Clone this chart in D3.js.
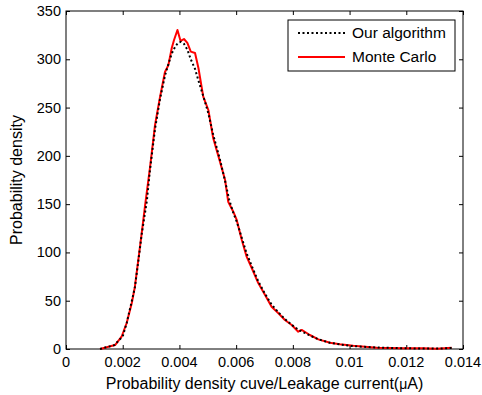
<!DOCTYPE html>
<html>
<head>
<meta charset="utf-8">
<script src="https://cdn.jsdelivr.net/npm/d3@7"></script>
<style>
  body { margin: 0; background: #fff; }
  svg { display: block; font-family: "Liberation Sans", Arial, sans-serif; }
</style>
</head>
<body>
<div id="chart"></div>
<script>
// leakage current (uA) and density
const mcX = [0.0012, 0.00173, 0.00196, 0.00214, 0.00232, 0.00243, 0.00255, 0.00267, 0.00279, 0.00296,
  0.00314, 0.00331, 0.00349, 0.00361, 0.00373, 0.00381, 0.00393, 0.00404, 0.00416, 0.00428,
  0.0044, 0.00455, 0.00467, 0.00484, 0.00502, 0.00519, 0.00543, 0.00561, 0.00572, 0.0059,
  0.00602, 0.0062, 0.00637, 0.00655, 0.00678, 0.00702, 0.00725, 0.00749, 0.00772, 0.00796,
  0.00819, 0.00831, 0.0086, 0.0089, 0.00931, 0.00966, 0.01013, 0.01096, 0.01189, 0.0126,
  0.01307, 0.0136];
const mcY = [0, 4.1, 12.7, 26.9, 47.6, 64.5, 92.2, 120.1, 149, 187.4,
  232, 260, 286.8, 294, 311.7, 320, 330.3, 319, 321, 316.9,
  307.9, 306.5, 291, 261.3, 247.5, 218.5, 194, 175, 152.5, 142.2,
  133.6, 112.9, 95.6, 83.9, 68.3, 55.9, 43.8, 37, 30, 24.9,
  17.9, 19.7, 14.5, 10, 6.5, 4.9, 3.4, 1.3, 0.7, 0.7,
  0.3, 1.3];

const algX = [0.0012, 0.0017, 0.002, 0.00214, 0.0023, 0.00243, 0.00255, 0.00267, 0.00285, 0.00296,
  0.00314, 0.00331, 0.00349, 0.00361, 0.00373, 0.00385, 0.00395, 0.00405, 0.00416, 0.00428,
  0.0044, 0.00455, 0.00467, 0.00484, 0.00502, 0.00519, 0.00543, 0.00561, 0.00575, 0.0059,
  0.00602, 0.0062, 0.00637, 0.00655, 0.00678, 0.00702, 0.00725, 0.00749, 0.00772, 0.00796,
  0.00819, 0.0086, 0.0089, 0.0093, 0.0097, 0.0101, 0.011, 0.0119, 0.0126, 0.0131, 0.0136];
const algY = [0, 4, 13, 27, 47, 64, 91, 119, 153, 185,
  228, 258, 283, 295, 306, 313, 317, 318, 316, 310,
  300, 290, 278, 262, 244, 222, 196, 174, 155, 141,
  132, 115, 99, 86, 70, 57, 46, 38, 31, 25,
  20, 14, 10, 6.5, 4.5, 3, 1.5, 0.8, 0.5, 0.4, 1];

const xTicks = [0, 0.002, 0.004, 0.006, 0.008, 0.01, 0.012, 0.014];
const xTickLabels = ["0", "0.002", "0.004", "0.006", "0.008", "0.01", "0.012", "0.014"];
const yTicks = [0, 50, 100, 150, 200, 250, 300, 350];
const yTickLabels = ["0", "50", "100", "150", "200", "250", "300", "350"];
const seriesNames = ["Our algorithm", "Monte Carlo"];

const width = 482, height = 395;
const margin = { top: 11, right: 19, bottom: 46, left: 66 };
const innerWidth = width - margin.left - margin.right;
const innerHeight = height - margin.top - margin.bottom;

const svg = d3.select("#chart").append("svg")
  .attr("width", width)
  .attr("height", height);

const g = svg.append("g")
  .attr("transform", `translate(${margin.left}, ${margin.top})`);

const x = d3.scaleLinear().domain([0, 0.014]).range([0, innerWidth]);
const y = d3.scaleLinear().domain([0, 350]).range([innerHeight, 0]);

const fontSize = 14.5;

// tick marks only, pointing inward on all four sides
function ticksOnly(sel) {
  sel.selectAll(".domain").remove();
  sel.selectAll("text").remove();
  sel.selectAll("line").attr("stroke", "#000");
}

g.append("g")
  .attr("transform", `translate(0, ${innerHeight})`)
  .call(d3.axisBottom(x).tickValues(xTicks).tickSizeInner(-4).tickSizeOuter(0))
  .call(ticksOnly);
g.append("g")
  .call(d3.axisTop(x).tickValues(xTicks).tickSizeInner(-4).tickSizeOuter(0))
  .call(ticksOnly);
g.append("g")
  .call(d3.axisLeft(y).tickValues(yTicks).tickSizeInner(-4).tickSizeOuter(0))
  .call(ticksOnly);
g.append("g")
  .attr("transform", `translate(${innerWidth}, 0)`)
  .call(d3.axisRight(y).tickValues(yTicks).tickSizeInner(-4).tickSizeOuter(0))
  .call(ticksOnly);

// tick labels
g.selectAll(".xlab")
  .data(xTicks)
  .enter().append("text")
  .attr("class", "xlab")
  .attr("x", d => x(d))
  .attr("y", innerHeight + 18)
  .attr("text-anchor", "middle")
  .attr("font-size", fontSize)
  .text((d, i) => xTickLabels[i]);

g.selectAll(".ylab")
  .data(yTicks)
  .enter().append("text")
  .attr("class", "ylab")
  .attr("x", -5)
  .attr("y", d => y(d) + 5)
  .attr("text-anchor", "end")
  .attr("font-size", fontSize)
  .text((d, i) => yTickLabels[i]);

g.append("rect")
  .attr("width", innerWidth)
  .attr("height", innerHeight)
  .attr("fill", "none")
  .attr("stroke", "#000")
  .attr("stroke-width", 1);

const line = d3.line()
  .x(d => x(d[0]))
  .y(d => y(d[1]));

g.append("path")
  .datum(mcX.map((v, i) => [v, mcY[i]]))
  .attr("fill", "none")
  .attr("stroke", "#ff0000")
  .attr("stroke-width", 2)
  .attr("stroke-linejoin", "round")
  .attr("d", line);

g.append("path")
  .datum(algX.map((v, i) => [v, algY[i]]))
  .attr("fill", "none")
  .attr("stroke", "#000")
  .attr("stroke-width", 2)
  .attr("stroke-dasharray", "2,2.5")
  .attr("d", line);

// axis titles
const xTitle = svg.append("text")
  .attr("x", margin.left + innerWidth / 2)
  .attr("y", 389)
  .attr("text-anchor", "middle")
  .attr("font-size", 16);
xTitle.append("tspan").text("Probability density cuve/Leakage current(");
xTitle.append("tspan").attr("font-size", 14).text("μ");
xTitle.append("tspan").text("A)");

svg.append("text")
  .attr("transform", `translate(22, ${margin.top + innerHeight / 2}) rotate(-90)`)
  .attr("text-anchor", "middle")
  .attr("font-size", 16)
  .text("Probability density");

// legend
const legend = svg.append("g").attr("transform", "translate(288, 20)");
legend.append("rect")
  .attr("width", 167).attr("height", 51)
  .attr("fill", "#fff").attr("stroke", "#000");

const legendStyles = [
  { stroke: "#000", dash: "2,2.5" },
  { stroke: "#ff0000", dash: null }
];
seriesNames.forEach((name, i) => {
  const yy = 13 + i * 24;
  legend.append("line")
    .attr("x1", 10).attr("x2", 57)
    .attr("y1", yy).attr("y2", yy)
    .attr("stroke", legendStyles[i].stroke)
    .attr("stroke-width", 2)
    .attr("stroke-dasharray", legendStyles[i].dash);
  legend.append("text")
    .attr("x", 64).attr("y", yy + 5)
    .attr("font-size", 15.5)
    .text(name);
});
</script>
</body>
</html>
